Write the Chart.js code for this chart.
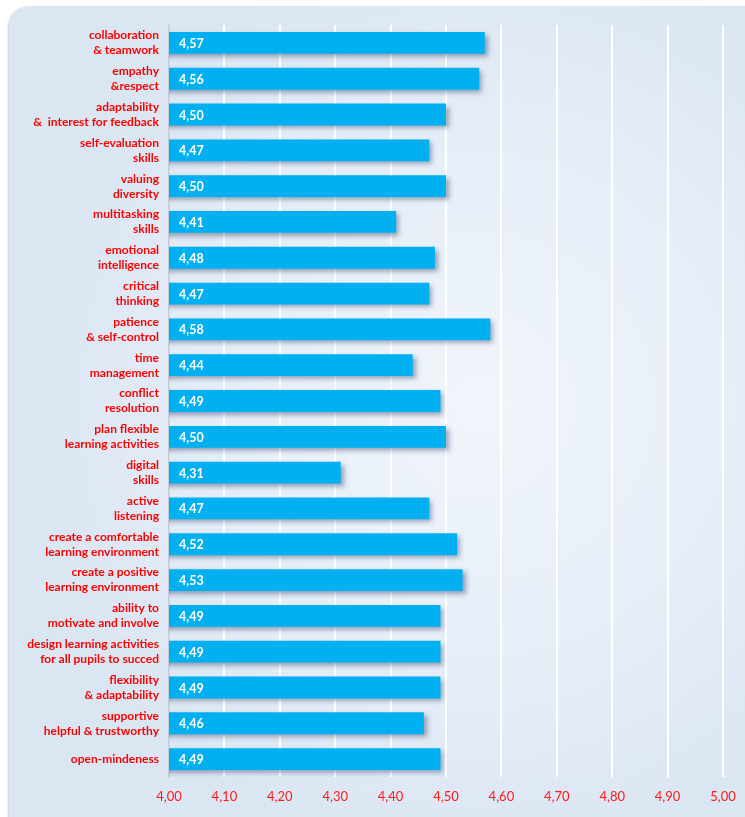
<!DOCTYPE html>
<html>
<head>
<meta charset="utf-8">
<script src="https://cdn.jsdelivr.net/npm/chart.js@4/dist/chart.umd.min.js"></script>
<style>
  html, body { margin: 0; padding: 0; background: #ffffff; }
  #wrap { position: relative; width: 745px; height: 817px; overflow: hidden; }
  #panel {
    position: absolute; left: 9px; top: 6px; width: 760px; height: 830px;
    border-radius: 20px;
    background: radial-gradient(ellipse 60% 55% at 62% 48%, #f1f5fb 0%, #e6eef8 55%, #dbe6f3 100%);
    box-shadow: -1px 1px 2px rgba(150,170,200,0.6);
  }
  #chart { position: absolute; left: 0; top: 0; }
</style>
</head>
<body>
<div id="wrap">
  <div id="panel"></div>
  <canvas id="chart" width="745" height="817"></canvas>
</div>
<script>
// Survey competences and their mean scores (scale 4,00 – 5,00)
const categories = [
  ["collaboration", "& teamwork"],
  ["empathy", "&respect"],
  ["adaptability", "&  interest for feedback"],
  ["self-evaluation", "skills"],
  ["valuing", "diversity"],
  ["multitasking", "skills"],
  ["emotional", "intelligence"],
  ["critical", "thinking"],
  ["patience", "& self-control"],
  ["time", "management"],
  ["conflict", "resolution"],
  ["plan flexible", "learning activities"],
  ["digital", "skills"],
  ["active", "listening"],
  ["create a comfortable", "learning environment"],
  ["create a positive", "learning environment"],
  ["ability to", "motivate and involve"],
  ["design learning activities", "for all pupils to succed"],
  ["flexibility", "& adaptability"],
  ["supportive", "helpful & trustworthy"],
  ["open-mindeness"]
];
const scores = [4.57, 4.56, 4.50, 4.47, 4.50, 4.41, 4.48, 4.47, 4.58, 4.44, 4.49,
                4.50, 4.31, 4.47, 4.52, 4.53, 4.49, 4.49, 4.49, 4.46, 4.49];
const axisMin = 4.0;
const axisMax = 5.0;
const axisStep = 0.1;

const fmt = v => v.toFixed(2).replace('.', ',');

// Soft drop shadow under the bars
const barShadow = {
  id: 'barShadow',
  beforeDatasetsDraw(chart) {
    const ctx = chart.ctx;
    ctx.save();
    ctx.shadowColor = 'rgba(40,60,100,0.45)';
    ctx.shadowBlur = 5;
    ctx.shadowOffsetX = 3;
    ctx.shadowOffsetY = 3;
  },
  afterDatasetsDraw(chart) {
    chart.ctx.restore();
  }
};

// White value labels at the start of each bar
const valueLabels = {
  id: 'valueLabels',
  afterDatasetsDraw(chart) {
    const ctx = chart.ctx;
    const meta = chart.getDatasetMeta(0);
    const left = chart.chartArea.left;
    ctx.save();
    ctx.shadowColor = 'transparent';
    ctx.fillStyle = '#ffffff';
    ctx.font = 'bold 12.5px Lato, "Open Sans", sans-serif';
    ctx.textAlign = 'left';
    ctx.textBaseline = 'middle';
    meta.data.forEach((bar, i) => {
      ctx.fillText(fmt(scores[i]), left + 10, bar.y + 1);
    });
    ctx.restore();
  }
};

new Chart(document.getElementById('chart'), {
  type: 'bar',
  data: {
    labels: categories,
    datasets: [{
      data: scores,
      backgroundColor: '#00b0f0',
      borderWidth: 0,
      categoryPercentage: 1.0,
      barPercentage: 0.61
    }]
  },
  options: {
    indexAxis: 'y',
    responsive: false,
    animation: false,
    layout: { padding: { left: 0, right: 22, top: 25, bottom: 0 } },
    plugins: {
      legend: { display: false },
      tooltip: { enabled: false }
    },
    scales: {
      x: {
        min: axisMin,
        max: axisMax,
        ticks: {
          stepSize: axisStep,
          color: '#ff1a1a',
          font: { family: 'Lato, "Open Sans", sans-serif', size: 13 },
          padding: 12,
          callback: v => fmt(v)
        },
        grid: {
          color: ctx => ctx.index === 0 ? 'rgba(0,0,0,0)' : '#ffffff',
          lineWidth: 2,
          drawTicks: false
        },
        border: { display: false },
        afterFit(scale) {
          scale.height = 40;
          scale.paddingLeft = 0;
          scale.paddingRight = 0;
        }
      },
      y: {
        ticks: {
          color: '#ff0000',
          font: { family: 'Lato, "Open Sans", sans-serif', size: 12, weight: 'bold', lineHeight: 1.25 },
          padding: 10,
          autoSkip: false
        },
        grid: { display: false, drawTicks: false },
        border: { display: true, color: '#c5ccd6', width: 1.5 },
        afterFit(scale) { scale.width = 169; }
      }
    }
  },
  plugins: [barShadow, valueLabels]
});
</script>
</body>
</html>
